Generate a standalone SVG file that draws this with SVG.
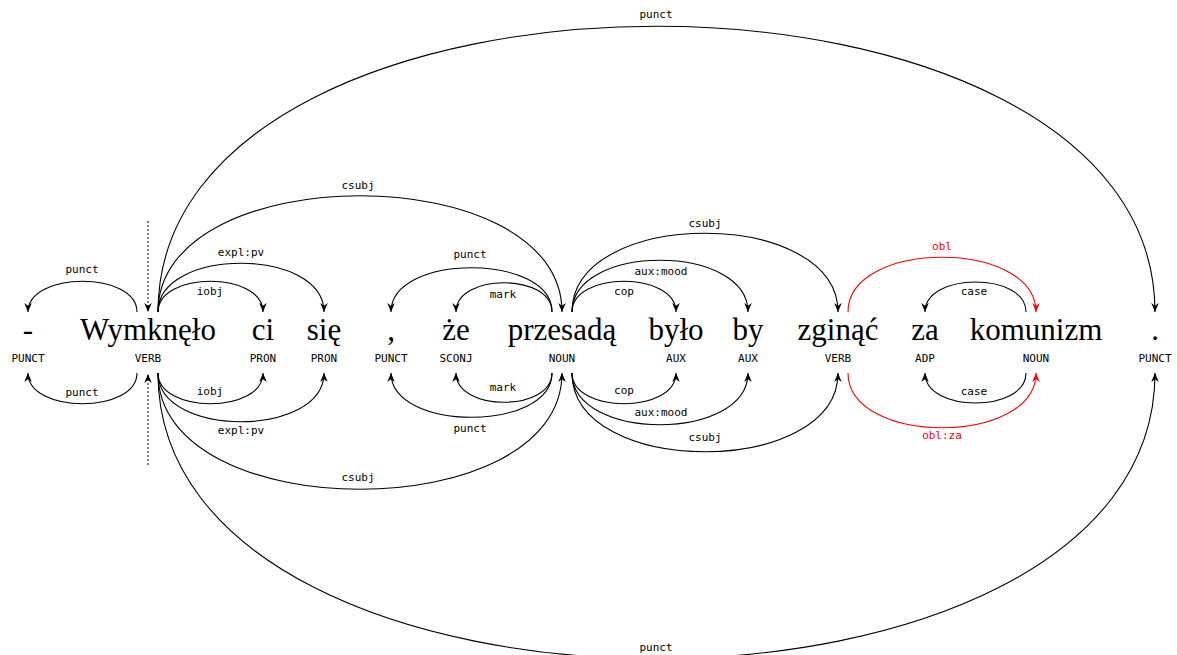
<svg xmlns="http://www.w3.org/2000/svg" width="1177" height="655" viewBox="0 0 1177 655">
<style>
.w{font-family:"Liberation Serif","DejaVu Serif",serif;font-size:31px;fill:#000;text-anchor:middle}
.p{font-family:"DejaVu Sans Mono","Liberation Mono",monospace;font-size:11px;fill:#000;text-anchor:middle}
.l{font-family:"DejaVu Sans Mono","Liberation Mono",monospace;font-size:11px;fill:#000;text-anchor:middle}
.lr{fill:#ff0000}
.a{fill:none;stroke:#000;stroke-width:1.1;marker-end:url(#ah)}
.ar{fill:none;stroke:#ff0000;stroke-width:1.1;marker-end:url(#ahr)}
.root{fill:none;stroke:#000;stroke-width:1;stroke-dasharray:2,2;marker-end:url(#ah)}
</style>
<defs>
<marker id="ah" viewBox="0 0 10 10" refX="10" refY="5" markerWidth="9" markerHeight="9" markerUnits="userSpaceOnUse" orient="auto"><path d="M0,0.8 L10,5 L0,9.2 L3,5 z" fill="#000"/></marker>
<marker id="ahr" viewBox="0 0 10 10" refX="10" refY="5" markerWidth="9" markerHeight="9" markerUnits="userSpaceOnUse" orient="auto"><path d="M0,0.8 L10,5 L0,9.2 L3,5 z" fill="#ff0000"/></marker>
</defs>
<g id="node-1"><text class="w" x="28" y="340">-</text><text class="p" x="28" y="362">PUNCT</text></g>
<g id="node-2"><text class="w" x="148" y="340">Wymknęło</text><text class="p" x="148" y="362">VERB</text></g>
<g id="node-3"><text class="w" x="263" y="340">ci</text><text class="p" x="263" y="362">PRON</text></g>
<g id="node-4"><text class="w" x="324" y="340">się</text><text class="p" x="324" y="362">PRON</text></g>
<g id="node-5"><text class="w" x="391" y="340">,</text><text class="p" x="391" y="362">PUNCT</text></g>
<g id="node-6"><text class="w" x="456" y="340">że</text><text class="p" x="456" y="362">SCONJ</text></g>
<g id="node-7"><text class="w" x="562" y="340">przesadą</text><text class="p" x="562" y="362">NOUN</text></g>
<g id="node-8"><text class="w" x="676" y="340">było</text><text class="p" x="676" y="362">AUX</text></g>
<g id="node-9"><text class="w" x="748" y="340">by</text><text class="p" x="748" y="362">AUX</text></g>
<g id="node-10"><text class="w" x="838" y="340">zginąć</text><text class="p" x="838" y="362">VERB</text></g>
<g id="node-11"><text class="w" x="925" y="340">za</text><text class="p" x="925" y="362">ADP</text></g>
<g id="node-12"><text class="w" x="1036" y="340">komunizm</text><text class="p" x="1036" y="362">NOUN</text></g>
<g id="node-13"><text class="w" x="1155" y="340">.</text><text class="p" x="1155" y="362">PUNCT</text></g>
<g id="connectors">
<g id="top">
<path class="root" d="M148,221 L148,312"/>
<path class="a" d="M137,312 C137,271 28,271 28,312"/><text class="l" x="82" y="273">punct</text>
<path class="a" d="M158,312 C158,271 263,271 263,312"/><text class="l" x="210" y="295">iobj</text>
<path class="a" d="M158,312 C158,247 324,247 324,312"/><text class="l" x="241" y="256">expl:pv</text>
<path class="a" d="M158,312 C158,157 562,157 562,312"/><text class="l" x="358" y="189">csubj</text>
<path class="a" d="M158,312 C158,-69 1155,-69 1155,312"/><text class="l" x="656" y="18">punct</text>
<path class="a" d="M552,312 C552,253 391,253 391,312"/><text class="l" x="470" y="258">punct</text>
<path class="a" d="M552,312 C552,273 456,273 456,312"/><text class="l" x="503" y="298">mark</text>
<path class="a" d="M572,312 C572,271 676,271 676,312"/><text class="l" x="624" y="295">cop</text>
<path class="a" d="M572,312 C572,243 748,243 748,312"/><text class="l" x="661" y="275">aux:mood</text>
<path class="a" d="M572,312 C572,207 838,207 838,312"/><text class="l" x="705" y="227">csubj</text>
<path class="ar" d="M848,312 C848,239 1036,239 1036,312"/><text class="l lr" x="942" y="250">obl</text>
<path class="a" d="M1026,312 C1026,272 925,272 925,312"/><text class="l" x="974" y="295">case</text>
</g>
<g id="bottom">
<path class="root" d="M148,465 L148,374"/>
<path class="a" d="M137,373 C137,414 28,414 28,373"/><text class="l" x="82" y="396">punct</text>
<path class="a" d="M158,373 C158,414 263,414 263,373"/><text class="l" x="210" y="395">iobj</text>
<path class="a" d="M158,373 C158,438 324,438 324,373"/><text class="l" x="241" y="434">expl:pv</text>
<path class="a" d="M158,373 C158,528 562,528 562,373"/><text class="l" x="358" y="481">csubj</text>
<path class="a" d="M158,373 C158,754 1155,754 1155,373"/><text class="l" x="656" y="651">punct</text>
<path class="a" d="M552,373 C552,432 391,432 391,373"/><text class="l" x="470" y="432">punct</text>
<path class="a" d="M552,373 C552,412 456,412 456,373"/><text class="l" x="503" y="391">mark</text>
<path class="a" d="M572,373 C572,414 676,414 676,373"/><text class="l" x="624" y="394">cop</text>
<path class="a" d="M572,373 C572,442 748,442 748,373"/><text class="l" x="661" y="416">aux:mood</text>
<path class="a" d="M572,373 C572,478 838,478 838,373"/><text class="l" x="705" y="441">csubj</text>
<path class="ar" d="M848,373 C848,446 1036,446 1036,373"/><text class="l lr" x="942" y="439">obl:za</text>
<path class="a" d="M1026,373 C1026,413 925,413 925,373"/><text class="l" x="974" y="395">case</text>
</g>
</g>
</svg>
